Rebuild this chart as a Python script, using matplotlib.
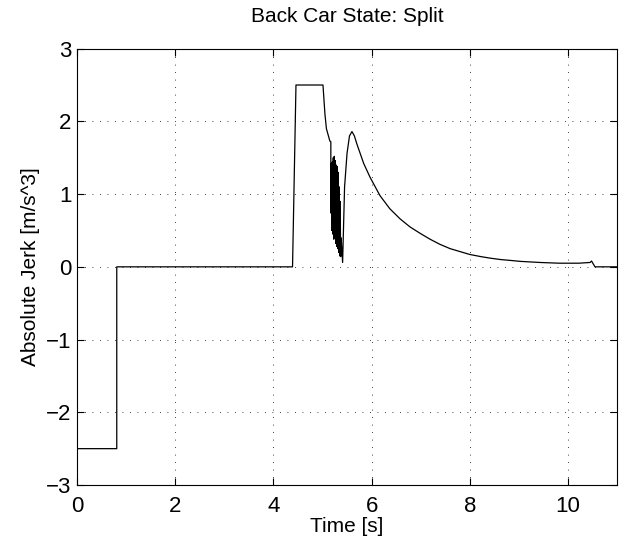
import matplotlib
matplotlib.use("Agg")
import matplotlib.pyplot as plt
import numpy as np

plt.rcParams['font.family'] = ['Liberation Sans', 'DejaVu Sans']

# time [s] and absolute jerk [m/s^3]
t = [0.0, 0.81, 0.81, 4.39, 4.46, 5.01, 5.05, 5.08, 5.15, 5.17,
     5.17, 5.18, 5.19, 5.20, 5.21, 5.22, 5.23, 5.24, 5.25, 5.26,
     5.27, 5.28, 5.29, 5.30, 5.31, 5.32, 5.33, 5.34, 5.35, 5.36,
     5.37, 5.38, 5.41, 5.45, 5.50, 5.55, 5.60, 5.65, 5.70, 5.84,
     5.97, 6.17, 6.37, 6.58, 6.78, 6.99, 7.19, 7.39, 7.60, 7.80,
     8.00, 8.23, 8.41, 8.63, 8.80, 9.03, 9.43, 9.82, 10.22, 10.45,
     10.48, 10.55, 11.0]
jerk = [-2.5, -2.5, 0.0, 0.0, 2.5, 2.5, 2.1, 1.9, 1.73, 1.72,
        0.74, 1.42, 0.50, 1.44, 0.45, 1.50, 0.38, 1.52, 0.40, 1.46,
        0.32, 1.40, 0.28, 1.38, 0.25, 1.30, 0.20, 1.10, 0.15, 0.90,
        0.14, 0.40, 0.06, 1.10, 1.56, 1.80, 1.86, 1.80, 1.69, 1.42,
        1.23, 0.98, 0.80, 0.66, 0.55, 0.46, 0.38, 0.31, 0.25, 0.21,
        0.17, 0.14, 0.12, 0.10, 0.09, 0.075, 0.06, 0.05, 0.05, 0.06,
        0.08, 0.0, 0.0]

xticks = [0, 2, 4, 6, 8, 10]
yticks = [-3, -2, -1, 0, 1, 2, 3]

fig = plt.figure(figsize=(6.28, 5.54), dpi=100)
ax = fig.add_axes([0.1226, 0.1245, 0.860, 0.7877])

ax.plot(t, jerk, color='black', linewidth=0.9)

ax.set_xlim(0, 11)
ax.set_ylim(-3, 3)
ax.set_xticks(xticks)
ax.set_yticks(yticks)
ax.tick_params(direction='in', top=True, right=True, labelsize=16, length=5)
ax.tick_params(axis='x', pad=8)
ax.tick_params(axis='y', pad=4)
ax.grid(True, color='black', linestyle=(0, (1, 8)), linewidth=0.6)
for s in ax.spines.values():
    s.set_linewidth(0.8)

ax.set_title("Back Car State: Split", fontsize=15, pad=19)
ax.set_xlabel("Time [s]", fontsize=15, labelpad=0)
ax.set_ylabel("Absolute Jerk [m/s^3]", fontsize=15, labelpad=4)

fig.savefig("out.png", dpi=100)
